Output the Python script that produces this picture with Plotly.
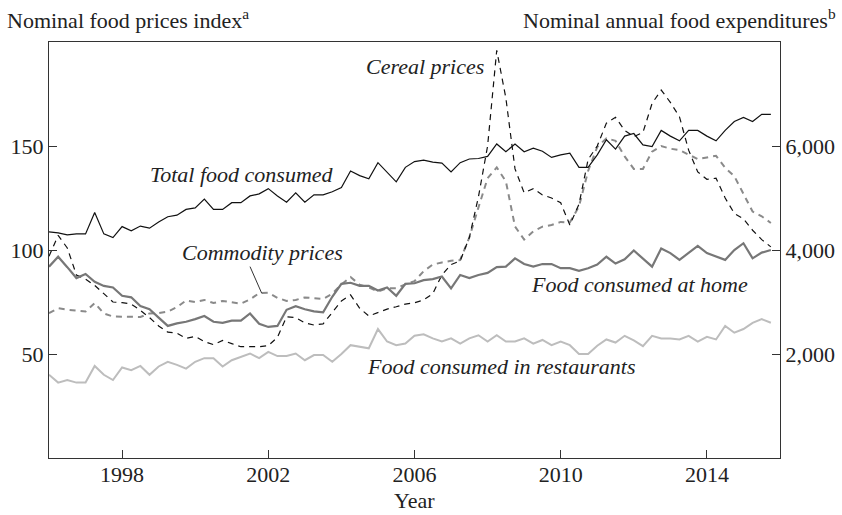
import plotly.graph_objects as go

# Quarterly observations, 1996Q1 .. 2015Q4 (decimal years)
quarters = [1996 + q / 4 for q in range(80)]

# Nominal annual food expenditures (dollars) - right axis
total_food = [4350, 4330, 4290, 4310, 4310, 4720, 4310, 4240, 4450, 4370,
              4460, 4420, 4540, 4640, 4670, 4780, 4810, 4980, 4780, 4780,
              4910, 4910, 5040, 5080, 5180, 5040, 4920, 5100, 4920, 5060,
              5060, 5120, 5200, 5520, 5430, 5370, 5680, 5490, 5310, 5590,
              5700, 5730, 5690, 5670, 5500, 5680, 5750, 5760, 5800, 6040,
              5890, 6040, 5890, 5960, 5900, 5780, 5830, 5860, 5590, 5590,
              5830, 6120, 5940, 6190, 6240, 6020, 5990, 6300, 6190, 6100,
              6300, 6300, 6190, 6100, 6300, 6470, 6550, 6470, 6610, 6610]
food_home = [3680, 3870, 3670, 3460, 3540, 3390, 3310, 3280, 3120, 3090,
             2920, 2860, 2700, 2540, 2590, 2620, 2670, 2730, 2620, 2600,
             2640, 2640, 2780, 2580, 2520, 2540, 2850, 2920, 2860, 2820,
             2800, 3100, 3350, 3370, 3310, 3310, 3220, 3280, 3120, 3350,
             3360, 3420, 3440, 3490, 3260, 3520, 3460, 3520, 3560, 3670,
             3680, 3840, 3730, 3680, 3730, 3730, 3650, 3650, 3600, 3650,
             3720, 3870, 3740, 3820, 3990, 3840, 3680, 4030, 3940, 3810,
             3950, 4080, 3940, 3870, 3810, 4000, 4130, 3840, 3950, 4000]
food_restaurants = [1600, 1450, 1500, 1450, 1450, 1770, 1600, 1500, 1740, 1690,
                    1770, 1600, 1760, 1850, 1790, 1720, 1850, 1920, 1920, 1760,
                    1880, 1950, 2010, 1920, 2040, 1960, 1960, 2010, 1880, 1980,
                    1980, 1850, 2000, 2170, 2140, 2110, 2480, 2240, 2170, 2200,
                    2350, 2380, 2300, 2240, 2300, 2200, 2300, 2360, 2240, 2360,
                    2240, 2240, 2300, 2200, 2270, 2170, 2240, 2170, 2000, 2000,
                    2160, 2280, 2220, 2350, 2260, 2150, 2350, 2300, 2300, 2280,
                    2350, 2240, 2330, 2280, 2540, 2410, 2480, 2600, 2670, 2600]

# Nominal food price indices - left axis
cereal_prices = [97, 107, 101, 88, 86, 83, 79, 75, 74.7, 74,
                 71, 67.5, 63.5, 60.5, 60, 57.5, 58.5, 56, 54.5, 56.5,
                 55, 53.5, 53.5, 53.5, 54, 58, 67.9, 67.5, 65, 63.9,
                 64.5, 70, 75.5, 78.4, 72, 68.3, 69.8, 71.6, 72.7, 74,
                 74.6, 76, 79, 88, 93, 94.8, 106, 125.6, 150, 196,
                 173, 139, 127.5, 129.5, 126.5, 125, 122.7, 112, 122, 143.5,
                 150, 161, 163.8, 157.5, 154.5, 156.5, 170.5, 176.9, 171, 164,
                 148, 137.5, 134, 134.5, 125, 117.6, 115, 109.5, 105, 101.5]
commodity_prices = [69.6, 72, 71.3, 71, 70.4, 74.5, 69.5, 68, 67.9, 67.9,
                    67.8, 69.5, 69.7, 70.4, 72.5, 75.7, 75, 76, 74.5, 75.5,
                    75, 74.2, 76.2, 79.3, 79.5, 77, 75.5, 76, 77.2, 76.8,
                    76.5, 79, 83.5, 87, 83.3, 82, 80, 81.6, 81.6, 83.5,
                    85, 89.8, 93, 94, 94.8, 95.2, 106, 120.5, 134.5, 139.7,
                    133, 111.3, 105, 109, 111.2, 112, 113.5, 113.2, 121, 138,
                    149.5, 153.7, 152.5, 145, 139, 139, 147.3, 150, 148.7, 148,
                    146, 143.7, 144.5, 145.3, 139.5, 135.5, 127, 118.5, 116.2, 113]

year_ticks = [1998, 2002, 2006, 2010, 2014]
left_ticks = [50, 100, 150]
right_ticks = [2000, 4000, 6000]

FONT = "Liberation Serif"
TXT = "#222222"
AX = "#333333"

fig = go.Figure()
fig.add_trace(go.Scatter(x=quarters, y=food_restaurants, yaxis="y2", mode="lines",
                         line=dict(color="#bdbdbd", width=2), name="Food consumed in restaurants"))
fig.add_trace(go.Scatter(x=quarters, y=commodity_prices, yaxis="y", mode="lines",
                         line=dict(color="#8a8a8a", width=2, dash="6px,5px"), name="Commodity prices"))
fig.add_trace(go.Scatter(x=quarters, y=food_home, yaxis="y2", mode="lines",
                         line=dict(color="#777777", width=2.2), name="Food consumed at home"))
fig.add_trace(go.Scatter(x=quarters, y=cereal_prices, yaxis="y", mode="lines",
                         line=dict(color="#111111", width=1.2, dash="6px,5px"), name="Cereal prices"))
fig.add_trace(go.Scatter(x=quarters, y=total_food, yaxis="y2", mode="lines",
                         line=dict(color="#111111", width=1.2), name="Total food consumed"))

labels = [
    ("Cereal prices", 2006.30, 188.1),
    ("Total food consumed", 2001.28, 136.4),
    ("Commodity prices", 2001.85, 98.9),
    ("Food consumed at home", 2012.16, 83.4),
    ("Food consumed in restaurants", 2008.38, 43.8),
]
for text, lx, ly in labels:
    fig.add_annotation(x=lx, y=ly, xref="x", yref="y", text="<i>" + text + "</i>",
                       showarrow=False, font=dict(family=FONT, size=22, color=TXT))

fig.add_shape(type="line", xref="x", yref="y", x0=2001.50, y0=92.0, x1=2001.82, y1=79.2,
              line=dict(color="#333333", width=1))

fig.add_annotation(x=-0.060, y=1.055, xref="paper", yref="paper", xanchor="left", yanchor="middle",
                   text="Nominal food prices index<sup>a</sup>", showarrow=False,
                   font=dict(family=FONT, size=22, color=TXT))
fig.add_annotation(x=1.0795, y=1.055, xref="paper", yref="paper", xanchor="right", yanchor="middle",
                   text="Nominal annual food expenditures<sup>b</sup>", showarrow=False,
                   font=dict(family=FONT, size=22, color=TXT))
fig.add_annotation(x=2006, y=-0.137, xref="x", yref="paper", xanchor="center", yanchor="bottom",
                   text="Year", showarrow=False, font=dict(family=FONT, size=22, color=TXT))

axis_common = dict(ticks="inside", ticklen=8, tickcolor=AX, tickwidth=1.2, showline=True,
                   linecolor=AX, linewidth=1.4, showgrid=False, zeroline=False, automargin=False,
                   tickfont=dict(family=FONT, size=22, color=TXT))

fig.update_layout(
    width=842, height=515,
    margin=dict(l=49, r=62, t=42, b=57, autoexpand=False),
    paper_bgcolor="white", plot_bgcolor="white",
    showlegend=False,
    font=dict(family=FONT, size=22, color=TXT),
    xaxis=dict(range=[1996, 2016], tickvals=year_ticks, ticktext=[str(t) for t in year_ticks],
               mirror=True, ticklabelstandoff=-4, **axis_common),
    yaxis=dict(range=[0, 200], tickvals=left_ticks, **axis_common),
    yaxis2=dict(range=[0, 8000], tickvals=right_ticks, tickformat=",d", overlaying="y",
                side="right", **axis_common),
)

fig.write_html("out.html", config={"displayModeBar": False},
               post_script="document.body.style.margin='0';")
